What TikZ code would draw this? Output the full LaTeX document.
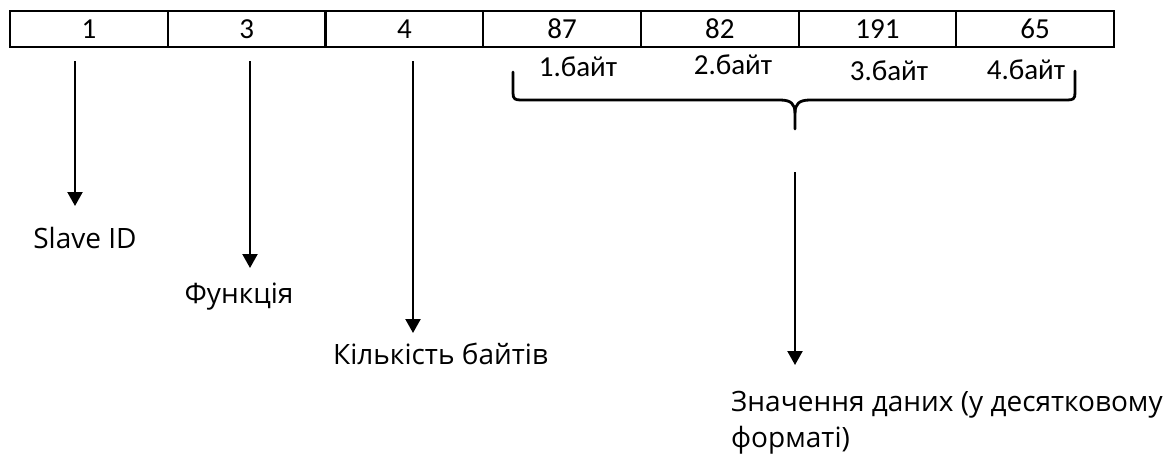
\documentclass[tikz,border=0pt]{standalone}
\usepackage{fontspec}
\setmainfont{Carlito}
\newfontfamily\lblfont{Open Sans}
\usetikzlibrary{arrows.meta}
\begin{document}
\begin{tikzpicture}[x=1pt,y=-1pt,
  cell/.style={draw,line width=2.2pt,minimum width=157.7pt,minimum height=36pt,inner sep=0pt,anchor=north west,font=\fontsize{29}{32}\selectfont},
  bytelbl/.style={font=\fontsize{29}{32}\selectfont,inner sep=0pt},
  lbl/.style={font=\lblfont\fontsize{28}{36}\selectfont,inner sep=0pt,align=left},
  arr/.style={line width=2.2pt,-{Triangle[width=15pt,length=14pt]}},
  brace/.style={line width=2.8pt,line cap=round,line join=round}]
\useasboundingbox (0,0) rectangle (1164,464);
% table
\node[cell] (c1) at (9,10) {1};
\node[cell] (c2) at (166.7,10) {3};
\node[cell] (c3) at (324.4,10) {4};
\node[cell] (c4) at (482.1,10) {87};
\node[cell] (c5) at (639.8,10) {82};
\node[cell] (c6) at (797.5,10) {191};
\node[cell] (c7) at (955.2,10) {65};
% byte labels
\node[bytelbl] (b1) at (578,67) {1.байт};
\node[bytelbl] (b2) at (733,65) {2.байт};
\node[bytelbl] (b3) at (889,71) {3.байт};
\node[bytelbl] (b4) at (1026,70) {4.байт};
% brace
\draw[brace] (513,72) -- (513,93) .. controls (513,99) and (515,100) .. (521,100) -- (780,100) .. controls (791,100) and (795,104) .. (795,113) -- (795,129);
\draw[brace] (1075,71) -- (1075,93) .. controls (1075,99) and (1073,100) .. (1067,100) -- (810,100) .. controls (799,100) and (795,104) .. (795,113);
% labels
\node[lbl] (slave) at (85,238) {Slave ID};
\node[lbl] (func) at (239,297) {Функція};
\node[lbl,anchor=west] (count) at (333,354) {Кількість байтів};
\node[lbl,anchor=north west] (value) at (731,391) {Значення даних (у десятковому\\форматі)};
% arrow coordinates
\coordinate (s1) at (75,61);
\coordinate (t1) at (75,206);
\coordinate (s2) at (250,61);
\coordinate (t2) at (250,268);
\coordinate (s3) at (413,61);
\coordinate (t3) at (413,333);
\coordinate (s4) at (795,172);
\coordinate (t4) at (795,365);
\draw[arr] (s1) -- (t1);
\draw[arr] (s2) -- (t2);
\draw[arr] (s3) -- (t3);
\draw[arr] (s4) -- (t4);
\end{tikzpicture}
\end{document}
